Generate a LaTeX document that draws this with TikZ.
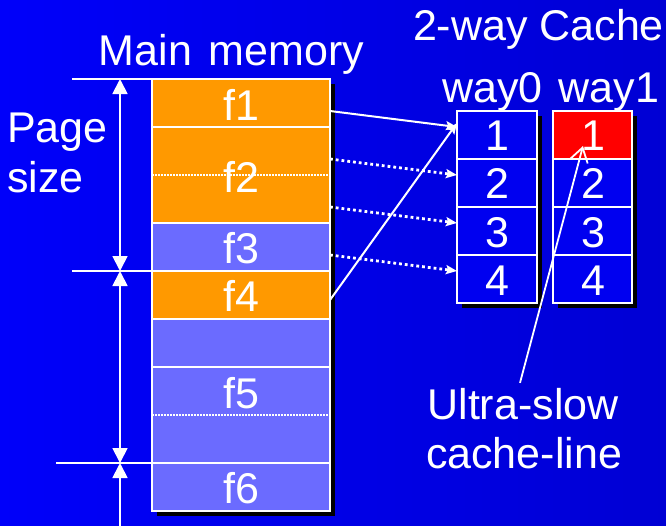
\documentclass[tikz,border=0pt]{standalone}
\usepackage{fontspec}
\setmainfont{Liberation Sans}
\usetikzlibrary{arrows.meta}
\definecolor{bgL}{RGB}{0,0,250}
\definecolor{bgR}{RGB}{0,0,212}
\definecolor{memor}{RGB}{255,153,0}
\definecolor{mempu}{RGB}{107,107,255}
\definecolor{cblue}{RGB}{0,0,240}
\definecolor{cred}{RGB}{255,0,0}
\begin{document}
\begin{tikzpicture}[x=1pt,y=-1pt,
 lbl/.style={text=white, font=\fontsize{43}{48}\selectfont, inner sep=0pt, outer sep=0pt},
 mcell/.style={draw=white, line width=1.8pt, minimum width=178pt, minimum height=48pt, inner sep=0pt, outer sep=0pt},
 ccell/.style={draw=white, line width=1.8pt, minimum width=80pt, minimum height=48pt, inner sep=0pt, outer sep=0pt, fill=cblue},
 shadowbox/.style={fill=black},
 solidarr/.style={white, line width=2pt, -{Stealth[length=11pt,width=9pt,inset=2pt]}},
 dotarr/.style={white, line width=2.8pt, dash pattern=on 2.8pt off 3pt, -{Stealth[length=11pt,width=9pt,inset=2pt]}},
 openarr/.style={white, line width=1.8pt, -{Straight Barb[length=14pt,width=18pt]}},
 dimarr/.style={white, line width=1.8pt, {Triangle[length=15pt,width=15pt]}-{Triangle[length=15pt,width=15pt]}},
 dimarrone/.style={white, line width=1.8pt, {Triangle[length=15pt,width=15pt]}-},
 dimline/.style={white, line width=1.8pt},
 inner/.style={white, line width=1.3pt, dash pattern=on 1.5pt off 1.5pt}
]
\useasboundingbox (0,0) rectangle (666,525);
\shade[left color=bgL, right color=bgR] (0,0) rectangle (666,525);

% shadows
\fill[shadowbox] (157,84) rectangle (335,516);
\fill[shadowbox] (462,116) rectangle (542,308);
\fill[shadowbox] (558,116) rectangle (637,308);

% main memory cells
\node[mcell, fill=memor] (m1) at (241,103) {};
\node[mcell, fill=memor, minimum height=96pt] (m2) at (241,175) {};
\node[mcell, fill=mempu] (m3) at (241,247) {};
\node[mcell, fill=memor] (m4) at (241,295) {};
\node[mcell, fill=mempu] (m5) at (241,343) {};
\node[mcell, fill=mempu, minimum height=96pt] (m6) at (241,415) {};
\node[mcell, fill=mempu] (m7) at (241,487) {};
\draw[inner] (m2.west) -- (m2.east);
\draw[inner] (m6.west) -- (m6.east);

\node[lbl, anchor=base] (tf1) at (241,120) {f1};
\node[lbl, anchor=base] (tf2) at (241,192) {f2};
\node[lbl, anchor=base] (tf3) at (241,263) {f3};
\node[lbl, anchor=base] (tf4) at (241,311) {f4};
\node[lbl, anchor=base] (tf5) at (241,408) {f5};
\node[lbl, anchor=base] (tf6) at (241,503) {f6};

% cache cells
\node[ccell] (a1) at (497,135) {};
\node[ccell] (a2) at (497,183) {};
\node[ccell] (a3) at (497,231) {};
\node[ccell] (a4) at (497,279) {};
\node[ccell, fill=cred, minimum width=79pt] (b1) at (592.5,135) {};
\node[ccell, minimum width=79pt] (b2) at (592.5,183) {};
\node[ccell, minimum width=79pt] (b3) at (592.5,231) {};
\node[ccell, minimum width=79pt] (b4) at (592.5,279) {};

\node[lbl, anchor=base] (ta1) at (497,150) {1};
\node[lbl, anchor=base] (ta2) at (497,198) {2};
\node[lbl, anchor=base] (ta3) at (497,247) {3};
\node[lbl, anchor=base] (ta4) at (497,295) {4};
\node[lbl, anchor=base] (tb1) at (593,150) {1};
\node[lbl, anchor=base] (tb2) at (593,198) {2};
\node[lbl, anchor=base] (tb3) at (593,247) {3};
\node[lbl, anchor=base] (tb4) at (593,295) {4};

% titles
\node[lbl, anchor=base] (title) at (538.5,40) {2-way Cache};
\node[lbl, anchor=base] (mm) at (231.5,65) {Main\hspace{5pt} memory};
\node[lbl, anchor=base] (w0) at (492.5,102) {way0};
\node[lbl, anchor=base] (w1) at (609,102) {way1};
\node[lbl, anchor=base west] (pg1) at (7,142) {Page};
\node[lbl, anchor=base west] (pg2) at (7,192) {size};
\node[lbl, anchor=base] (ul1) at (523,419) {Ultra-slow};
\node[lbl, anchor=base] (ul2) at (524,468) {cache-line};

% mapping arrows
\draw[solidarr] ([yshift=-8pt]m1.east) -- ([yshift=8pt]a1.west);
\draw[dotarr] ([yshift=16pt]m2.east) -- ([yshift=8pt]a2.west);
\draw[dotarr] ([yshift=-32pt]m2.east) -- ([yshift=8pt]a3.west);
\draw[dotarr] ([yshift=-8pt]m3.east) -- ([yshift=8pt]a4.west);
\draw[solidarr] ([yshift=-5pt]m4.east) -- ([yshift=12pt]a1.west);
\draw[openarr] ([xshift=-3pt,yshift=5pt]ul1.north) -- ([xshift=-9.5pt,yshift=-11pt]b1.center);

% page size dimensions
\coordinate (d0) at (120,79);
\coordinate (d1) at (120,271);
\coordinate (d2) at (120,463);
\coordinate (d3) at (120,530);
\coordinate (h0) at (72,79);
\coordinate (h1) at (72,271);
\coordinate (h2) at (56,463);
\draw[dimline] (h0) -- (m1.north west);
\draw[dimline] (h1) -- (m4.north west);
\draw[dimline] (h2) -- (m7.north west);
\draw[dimarr] (d0) -- (d1);
\draw[dimarr] (d1) -- (d2);
\draw[dimarrone] (d2) -- (d3);
\end{tikzpicture}
\end{document}
